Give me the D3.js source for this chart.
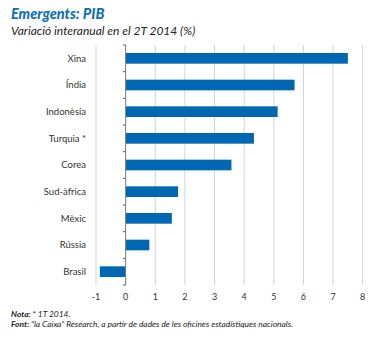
<!DOCTYPE html>
<html>
<head>
<meta charset="utf-8">
<script src="https://cdn.jsdelivr.net/npm/d3@7"></script>
<style>
  body { margin: 0; background: #fff; }
  svg { display: block; font-family: Lato, "Open Sans", sans-serif; }
</style>
</head>
<body>
<div id="chart_area"></div>
<script>
var width = 373
var height = 338

// Data
var categories = ["Xina", "Índia", "Indonèsia", "Turquia *", "Corea", "Sud-àfrica", "Mèxic", "Rússia", "Brasil"]
var values = [7.5, 5.7, 5.13, 4.33, 3.57, 1.77, 1.56, 0.8, -0.87]
var xTicks = [-1, 0, 1, 2, 3, 4, 5, 6, 7, 8]

var blue = "#0068b3"

var svg = d3.select("#chart_area")
  .append("svg")
  .attr("width", width)
  .attr("height", height)

var x = d3.scaleLinear()
  .domain([-1, 8])
  .range([96, 362.7])

var y = d3.scaleBand()
  .domain(categories)
  .range([45, 285])
  .paddingInner(0.6)
  .paddingOuter(0.3)

// titles
svg.append("text")
  .attr("x", 11)
  .attr("y", 19)
  .attr("fill", "#1170b8")
  .style("font-size", "14.5px")
  .style("font-weight", "900")
  .style("font-style", "italic")
  .text("Emergents: PIB")

svg.append("text")
  .attr("x", 11)
  .attr("y", 35)
  .attr("fill", "#222")
  .style("font-size", "12px")
  .style("font-style", "italic")
  .text("Variació interanual en el 2T 2014 (%)")

// grid lines
svg.append("g")
  .selectAll("line")
  .data(xTicks.filter(d => d !== 0))
  .join("line")
  .attr("x1", d => x(d))
  .attr("x2", d => x(d))
  .attr("y1", 45)
  .attr("y2", 285)
  .attr("stroke", "#d4d4d4")
  .attr("stroke-width", 1)

// bars
svg.append("g")
  .selectAll("rect")
  .data(categories)
  .join("rect")
  .attr("x", (d, i) => x(Math.min(0, values[i])))
  .attr("y", d => y(d))
  .attr("width", (d, i) => Math.abs(x(values[i]) - x(0)))
  .attr("height", y.bandwidth())
  .attr("fill", blue)

// y axis line + ticks at band boundaries
svg.append("line")
  .attr("x1", x(0))
  .attr("x2", x(0))
  .attr("y1", 45)
  .attr("y2", 285)
  .attr("stroke", "#7a7a7a")
  .attr("stroke-width", 1)

svg.append("g")
  .selectAll("line")
  .data(d3.range(categories.length + 1))
  .join("line")
  .attr("x1", x(0) - 2.5)
  .attr("x2", x(0))
  .attr("y1", i => 45 + i * (240 / categories.length))
  .attr("y2", i => 45 + i * (240 / categories.length))
  .attr("stroke", "#555")
  .attr("stroke-width", 1)

// category labels
svg.append("g")
  .selectAll("text")
  .data(categories)
  .join("text")
  .attr("x", 86)
  .attr("y", d => y(d) + y.bandwidth() / 2)
  .attr("dy", "0.35em")
  .attr("text-anchor", "end")
  .attr("fill", "#333")
  .style("font-size", "9.5px")
  .text(d => d)

// x tick labels
svg.append("g")
  .selectAll("text")
  .data(xTicks)
  .join("text")
  .attr("x", d => x(d))
  .attr("y", 300)
  .attr("text-anchor", "middle")
  .attr("fill", "#333")
  .style("font-size", "9px")
  .text(d => d)

// notes
var note = svg.append("text")
  .attr("x", 11)
  .attr("y", 316.5)
  .attr("fill", "#222")
  .style("font-size", "8.4px")
  .style("font-style", "italic")
note.append("tspan").style("font-weight", "700").text("Nota: ")
note.append("tspan").text("* 1T 2014.")

var src = svg.append("text")
  .attr("x", 11)
  .attr("y", 326.5)
  .attr("fill", "#222")
  .style("font-size", "8.4px")
  .style("font-style", "italic")
src.append("tspan").style("font-weight", "700").text("Font: ")
src.append("tspan").text("“la Caixa” Research, a partir de dades de les oficines estadístiques nacionals.")
</script>
</body>
</html>
